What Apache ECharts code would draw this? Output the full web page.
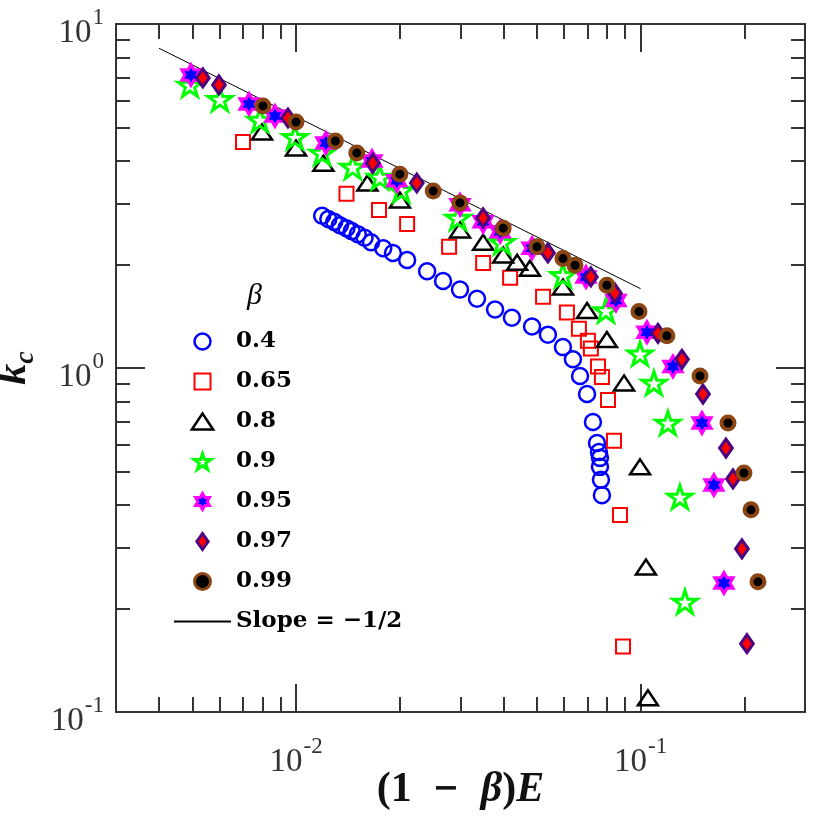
<!DOCTYPE html>
<html>
<head>
<meta charset="utf-8">
<title>k_c frente a (1-β)E</title>
<script src="https://cdn.jsdelivr.net/npm/echarts@6/dist/echarts.min.js"></script>
<style>
  html, body { margin: 0; padding: 0; background: #fff; }
  #grafico { width: 831px; height: 819px; }
</style>
</head>
<body>
<div id="grafico"></div>
<script>
// Datos: x = (1-β)E, y = k_c
const nombresSeries = ['0.4', '0.65', '0.8', '0.9', '0.95', '0.97', '0.99'];
const nombrePendiente = 'Slope = \u22121/2';

const x040 = [0.0119, 0.0124, 0.0129, 0.0134, 0.0140, 0.0145, 0.0151, 0.0158, 0.0165, 0.0179, 0.0191, 0.0210, 0.0240, 0.0267, 0.0299, 0.0335, 0.0378, 0.0423, 0.0484, 0.0538, 0.0595, 0.0636, 0.0667, 0.0699, 0.0727, 0.0747, 0.0757, 0.0762, 0.0762, 0.0767, 0.0772];
const y040 = [2.77, 2.71, 2.66, 2.60, 2.55, 2.50, 2.45, 2.39, 2.32, 2.23, 2.16, 2.06, 1.91, 1.79, 1.69, 1.59, 1.48, 1.40, 1.32, 1.25, 1.15, 1.06, 0.948, 0.840, 0.697, 0.605, 0.570, 0.548, 0.516, 0.473, 0.427];

const x065 = [0.00701, 0.0140, 0.0174, 0.0210, 0.0278, 0.0349, 0.0418, 0.0521, 0.0611, 0.0662, 0.0703, 0.0717, 0.0752, 0.0772, 0.0804, 0.0837, 0.0871, 0.0889];
const y065 = [4.54, 3.21, 2.88, 2.62, 2.25, 2.02, 1.83, 1.61, 1.45, 1.30, 1.20, 1.14, 1.01, 0.942, 0.807, 0.614, 0.374, 0.155];

const x080 = [0.00796, 0.00999, 0.0120, 0.0161, 0.0200, 0.0299, 0.0349, 0.0399, 0.0438, 0.0477, 0.0595, 0.0699, 0.0798, 0.0895, 0.0996, 0.1036, 0.1050];
const y080 = [4.85, 4.36, 3.94, 3.45, 3.08, 2.52, 2.32, 2.13, 2.03, 1.95, 1.72, 1.47, 1.21, 0.905, 0.516, 0.264, 0.110];

const x090 = [0.00492, 0.00601, 0.00785, 0.00992, 0.0119, 0.0146, 0.0175, 0.0202, 0.0295, 0.0396, 0.0595, 0.0793, 0.0996, 0.1093, 0.1200, 0.1300, 0.1345];
const y090 = [6.65, 6.05, 5.26, 4.69, 4.22, 3.84, 3.59, 3.29, 2.73, 2.32, 1.86, 1.47, 1.10, 0.905, 0.692, 0.422, 0.209];

const x095 = [0.00495, 0.00730, 0.00868, 0.0122, 0.0166, 0.0196, 0.0299, 0.0349, 0.0391, 0.0484, 0.0694, 0.0848, 0.1043, 0.1241, 0.1507, 0.1632, 0.1745];
const y095 = [7.11, 5.85, 5.40, 4.51, 4.00, 3.50, 2.98, 2.66, 2.49, 2.23, 1.84, 1.57, 1.27, 1.01, 0.692, 0.457, 0.237];

const x097 = [0.00536, 0.00597, 0.00947, 0.0167, 0.0224, 0.0349, 0.0538, 0.0717, 0.0842, 0.1123, 0.1318, 0.1517, 0.1769, 0.1854, 0.1968, 0.2035];
const y097 = [6.97, 6.65, 5.33, 3.94, 3.45, 2.73, 2.16, 1.84, 1.65, 1.26, 1.06, 0.840, 0.585, 0.476, 0.298, 0.158];

const x099 = [0.00801, 0.00999, 0.0130, 0.0150, 0.0200, 0.0250, 0.0299, 0.0399, 0.0500, 0.0595, 0.0645, 0.0798, 0.0989, 0.1192, 0.1487, 0.1793, 0.1995, 0.2091, 0.2191];
const y099 = [5.78, 5.19, 4.57, 4.22, 3.66, 3.27, 3.02, 2.55, 2.25, 2.08, 1.99, 1.74, 1.46, 1.24, 0.948, 0.692, 0.495, 0.387, 0.239];

// Recta de referencia (extremos)
const xPendiente = [0.004, 0.1];
const yPendiente = [8.5, 1.70];

// Ticks
const ticksMayoresX = [0.01, 0.1];
const ticksMenoresX = [0.004, 0.005, 0.006, 0.007, 0.008, 0.009, 0.02, 0.03, 0.04, 0.05, 0.06, 0.07, 0.08, 0.09, 0.2];
const ticksMayoresY = [0.1, 1, 10];
const ticksMenoresY = [0.2, 0.3, 0.4, 0.5, 0.6, 0.7, 0.8, 0.9, 2, 3, 4, 5, 6, 7, 8, 9];

// Símbolos tipo MATLAB
const SIMB_CIRCULO = 'path://M0,10A10,10 0 1,1 20,10A10,10 0 1,1 0,10Z';
const SIMB_CUADRADO = 'path://M0,0L20,0L20,20L0,20Z';
const SIMB_TRIANGULO = 'path://M10,0L20,15L0,15Z';
const SIMB_ESTRELLA = 'path://M951,0L1176,691L1902,691L1314,1118L1539,1809L951,1382L363,1809L588,1118L0,691L727,691Z';
const SIMB_HEXAGRAMA = 'path://M866,0L1155,500L1732,500L1443,1000L1732,1500L1155,1500L866,2000L577,1500L0,1500L289,1000L0,500L577,500Z';
const SIMB_ROMBO = 'path://M6,0L12,8.5L6,17L0,8.5Z';

const COLOR_EJE = '#333';
const FUENTE = 'Liberation Serif';

function pares(xs, ys) {
    return xs.map((x, i) => [x, ys[i]]);
}

function serieDispersion(nombre, xs, ys, simbolo, tam, relleno, borde, grosor) {
    return {
        name: nombre,
        type: 'scatter',
        data: pares(xs, ys),
        symbol: simbolo,
        symbolSize: tam,
        symbolKeepAspect: true,
        itemStyle: { color: relleno, borderColor: borde, borderWidth: grosor, opacity: 1 },
        emphasis: { disabled: true }
    };
}

function etiquetaPotencia(valor) {
    const exp = Math.round(Math.log10(valor));
    return '{b|10}{e|' + exp + '}';
}

// "10" abajo, exponente arriba (superíndice)
const richPotencia = {
    b: { fontFamily: FUENTE, fontSize: 33, height: 33, lineHeight: 33, color: COLOR_EJE, verticalAlign: 'bottom' },
    e: { fontFamily: FUENTE, fontSize: 23, height: 22, lineHeight: 43, color: COLOR_EJE, verticalAlign: 'top', padding: [0, 0, 21, 1] }
};

function ejeX(posicion, valoresTick, largo, conLinea, conEtiquetas) {
    return {
        type: 'log', logBase: 10, min: 0.003, max: 0.3, position: posicion, gridIndex: 0,
        axisLine: { show: conLinea, onZero: false, lineStyle: { color: COLOR_EJE, width: 2 } },
        axisTick: { show: true, inside: true, length: largo, customValues: valoresTick, lineStyle: { color: COLOR_EJE, width: 2 } },
        minorTick: { show: false },
        splitLine: { show: false },
        axisLabel: conEtiquetas ? {
            show: true, customValues: ticksMayoresX, margin: 24,
            formatter: etiquetaPotencia, rich: richPotencia
        } : { show: false }
    };
}

function ejeY(posicion, valoresTick, largo, conLinea, conEtiquetas) {
    return {
        type: 'log', logBase: 10, min: 0.1, max: 10, position: posicion, gridIndex: 0,
        axisLine: { show: conLinea, onZero: false, lineStyle: { color: COLOR_EJE, width: 2 } },
        axisTick: { show: true, inside: true, length: largo, customValues: valoresTick, lineStyle: { color: COLOR_EJE, width: 2 } },
        minorTick: { show: false },
        splitLine: { show: false },
        axisLabel: conEtiquetas ? {
            show: true, customValues: ticksMayoresY, margin: 12, padding: [9, 0, 0, 0],
            formatter: etiquetaPotencia, rich: richPotencia
        } : { show: false }
    };
}

const grafico = echarts.init(document.getElementById('grafico'));

const ejesX = [
    ejeX('bottom', ticksMayoresX, 28, true, true),
    ejeX('bottom', ticksMenoresX, 15, false, false),
    ejeX('top', ticksMayoresX, 28, true, false),
    ejeX('top', ticksMenoresX, 15, false, false)
];
ejesX[0].name = '{p|(1  }{m|\u2212}{p|  }{i|\u03b2}{p|)}{i|E}';
ejesX[0].nameLocation = 'middle';
ejesX[0].nameGap = 57;
ejesX[0].nameMoveOverlap = false;
ejesX[0].nameTextStyle = {
    rich: {
        p: { fontFamily: FUENTE, fontSize: 42, lineHeight: 42, fontWeight: 'bold', color: '#111' },
        m: { fontFamily: 'DejaVu Serif', fontSize: 32, lineHeight: 42, fontWeight: 'bold', color: '#111' },
        i: { fontFamily: FUENTE, fontSize: 42, lineHeight: 42, fontWeight: 'bold', fontStyle: 'italic', color: '#111' }
    }
};

const ejesY = [
    ejeY('left', ticksMayoresY, 29, true, true),
    ejeY('left', ticksMenoresY, 14, false, false),
    ejeY('right', ticksMayoresY, 29, true, false),
    ejeY('right', ticksMenoresY, 14, false, false)
];
ejesY[0].name = '{k|k}{c|c}';
ejesY[0].nameLocation = 'middle';
ejesY[0].nameGap = 76;
ejesY[0].nameMoveOverlap = false;
ejesY[0].nameTextStyle = {
    rich: {
        k: { fontFamily: FUENTE, fontSize: 42, height: 42, lineHeight: 42, fontWeight: 'bold', fontStyle: 'italic', color: '#111', verticalAlign: 'top' },
        c: { fontFamily: FUENTE, fontSize: 28, height: 28, lineHeight: 47, fontWeight: 'bold', fontStyle: 'italic', color: '#111', verticalAlign: 'top', padding: [19, 0, 0, 0] }
    }
};

const opciones = {
    animation: false,
    backgroundColor: '#fff',
    grid: { left: 116, right: 26, top: 24, bottom: 107, containLabel: false, outerBoundsMode: 'none' },
    title: {
        text: '\u03b2', left: 247, top: 281, padding: 0,
        textStyle: { fontFamily: FUENTE, fontStyle: 'italic', fontWeight: 'normal', fontSize: 30, color: '#000' }
    },
    legend: {
        orient: 'vertical', left: 168, top: 325,
        itemWidth: 57, itemHeight: 16, itemGap: 17,
        selectedMode: false,
        itemStyle: { borderWidth: 'inherit' },
        textStyle: { fontFamily: 'DejaVu Serif', fontWeight: 'bold', fontSize: 23, lineHeight: 20, color: '#000' },
        data: nombresSeries.slice(0, 6).concat([
            { name: '0.99', itemStyle: { borderWidth: 3 } },
            { name: nombrePendiente, itemStyle: { opacity: 0 } }
        ])
    },
    xAxis: ejesX,
    yAxis: ejesY,
    series: [
        serieDispersion('0.4', x040, y040, SIMB_CIRCULO, 16, 'rgba(0,0,0,0)', '#0000ff', 2.5),
        serieDispersion('0.65', x065, y065, SIMB_CUADRADO, 14, 'rgba(0,0,0,0)', '#ff0000', 2),
        serieDispersion('0.8', x080, y080, SIMB_TRIANGULO, 20, 'rgba(0,0,0,0)', '#000000', 2.5),
        serieDispersion('0.9', x090, y090, SIMB_ESTRELLA, 24, 'rgba(0,0,0,0)', '#00ff00', 3),
        serieDispersion('0.95', x095, y095, SIMB_HEXAGRAMA, 21, '#0000ff', '#ff00ff', 3),
        serieDispersion('0.97', x097, y097, SIMB_ROMBO, 18, '#ff0000', '#4b0082', 3),
        serieDispersion('0.99', x099, y099, SIMB_CIRCULO, 13, '#000000', '#8b4513', 4),
        {
            name: nombrePendiente,
            type: 'line',
            data: pares(xPendiente, yPendiente),
            symbol: 'none',
            lineStyle: { color: '#000', width: 1 },
            itemStyle: { color: '#000' },
            emphasis: { disabled: true },
            z: 1
        }
    ]
};

grafico.setOption(opciones);
</script>
</body>
</html>
